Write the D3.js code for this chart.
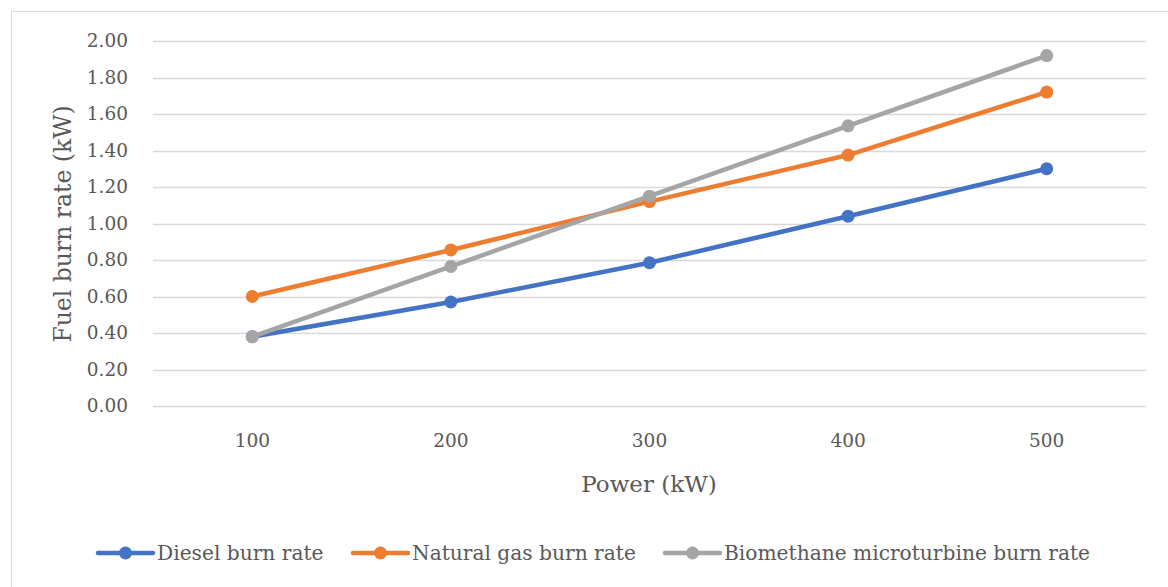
<!DOCTYPE html>
<html><head><meta charset="utf-8">
<script src="https://cdn.jsdelivr.net/npm/d3@7"></script>
<style>body{margin:0;background:#fff;} svg{display:block;}</style>
</head><body>
<svg id="chart" width="1168" height="587"></svg>
<script>
const categories = ["100","200","300","400","500"];
const diesel = [0.38, 0.57, 0.785, 1.04, 1.30];
const naturalGas = [0.60, 0.855, 1.12, 1.375, 1.72];
const biomethane = [0.38, 0.765, 1.15, 1.535, 1.92];
const yTicks = [0,0.2,0.4,0.6,0.8,1.0,1.2,1.4,1.6,1.8,2.0];
const seriesNames = ["Diesel burn rate","Natural gas burn rate","Biomethane microturbine burn rate"];
const colors = ["#4472C4","#ED7D31","#A5A5A5"];

const series = [diesel, naturalGas, biomethane].map((v,i)=>({name:seriesNames[i], values:v, color:colors[i]}));
const svg = d3.select("#chart");
const font = "'DejaVu Serif', 'Liberation Serif', serif";
const textColor = "#595959";

svg.append("rect").attr("x",11.5).attr("y",11.5).attr("width",1170).attr("height",590)
  .attr("fill","#fff").attr("stroke","#d9d9d9").attr("stroke-width",1);

const x = d3.scaleBand().domain(categories).range([153,1146]);
const y = d3.scaleLinear().domain([0,2]).range([406,41]);

const g = svg.append("g");
g.selectAll("line.grid").data(yTicks).join("line")
  .attr("x1",153).attr("x2",1146)
  .attr("y1",d=>Math.round(y(d))+0.5).attr("y2",d=>Math.round(y(d))+0.5)
  .attr("stroke","#d9d9d9").attr("stroke-width",1.5);

g.selectAll("text.ytick").data(yTicks).join("text")
  .attr("x",128).attr("y",d=>y(d)).attr("dy","0.35em")
  .attr("text-anchor","end").attr("font-family",font).attr("font-size",18.5)
  .attr("fill",textColor).text(d=>d.toFixed(2));

g.selectAll("text.xtick").data(categories).join("text")
  .attr("x",d=>x(d)+x.bandwidth()/2).attr("y",447)
  .attr("text-anchor","middle").attr("font-family",font).attr("font-size",18.5)
  .attr("fill",textColor).text(d=>d);

svg.append("text").attr("x",649).attr("y",492).attr("text-anchor","middle")
  .attr("font-family",font).attr("font-size",23).attr("fill",textColor).text("Power (kW)");
svg.append("text").attr("transform","translate(71,224) rotate(-90)").attr("text-anchor","middle")
  .attr("font-family",font).attr("font-size",23.5).attr("fill",textColor).text("Fuel burn rate (kW)");

const line = d3.line().x((d,i)=>x(categories[i])+x.bandwidth()/2).y(d=>y(d));
series.forEach(s=>{
  svg.append("path").datum(s.values).attr("d",line).attr("fill","none")
    .attr("stroke",s.color).attr("stroke-width",4.5).attr("stroke-linejoin","round");
  svg.selectAll(null).data(s.values).join("circle")
    .attr("cx",(d,i)=>x(categories[i])+x.bandwidth()/2).attr("cy",d=>y(d)).attr("r",6.5)
    .attr("fill",s.color);
});

// legend
const legX = [98, 353, 665];
const legY = 553;
series.forEach((s,i)=>{
  const lg = svg.append("g").attr("transform",`translate(${legX[i]},${legY})`);
  lg.append("line").attr("x1",0).attr("x2",55).attr("y1",0).attr("y2",0)
    .attr("stroke",s.color).attr("stroke-width",4.5).attr("stroke-linecap","round");
  lg.append("circle").attr("cx",27.5).attr("cy",0).attr("r",6.5).attr("fill",s.color);
  lg.append("text").attr("x",59).attr("y",0).attr("dy","0.35em")
    .attr("font-family",font).attr("font-size",20.2).attr("fill",textColor).text(s.name);
});
</script>
</body></html>
